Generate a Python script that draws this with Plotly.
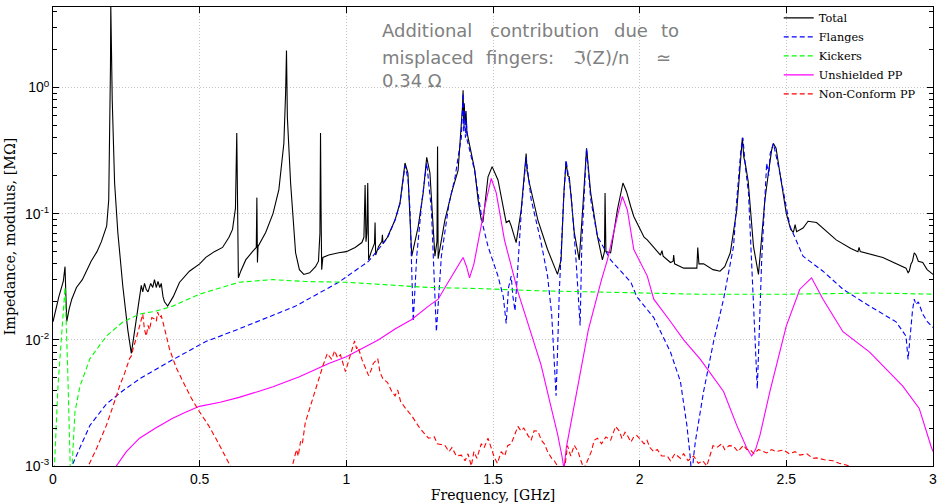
import plotly.graph_objects as go

# ---------------- data (frequency in GHz, impedance modulus in MOhm) ----------------
total_f = [0.000, 0.020, 0.035, 0.041, 0.044, 0.047, 0.055, 0.064, 0.080, 0.100, 0.130, 0.150,
           0.165, 0.183, 0.190, 0.193, 0.196, 0.197, 0.199, 0.202, 0.210, 0.221, 0.238, 0.255,
           0.267, 0.284, 0.295, 0.301, 0.306, 0.312, 0.318, 0.324, 0.333, 0.340, 0.346, 0.352,
           0.358, 0.364, 0.369, 0.375, 0.380, 0.391, 0.410, 0.431, 0.465, 0.500, 0.521, 0.550,
           0.578, 0.600, 0.612, 0.622, 0.6265, 0.628, 0.632, 0.640, 0.657, 0.680, 0.693, 0.695,
           0.697, 0.699, 0.725, 0.750, 0.770, 0.787, 0.793, 0.796, 0.799, 0.810, 0.827, 0.840,
           0.855, 0.875, 0.895, 0.905, 0.910, 0.912, 0.914, 0.916, 0.920, 0.940, 0.974, 1.000,
           1.030, 1.053, 1.060, 1.064, 1.067, 1.070, 1.073, 1.076, 1.085, 1.096, 1.098, 1.100,
           1.110, 1.121, 1.123, 1.125, 1.140, 1.166, 1.183, 1.200, 1.210, 1.223, 1.245, 1.262,
           1.274, 1.285, 1.302, 1.309, 1.311, 1.313, 1.336, 1.360, 1.381, 1.392, 1.396, 1.398,
           1.400, 1.402, 1.405, 1.408, 1.411, 1.415, 1.438, 1.449, 1.460, 1.466, 1.483, 1.497,
           1.517, 1.545, 1.555, 1.562, 1.579, 1.596, 1.606, 1.613, 1.616, 1.624, 1.653, 1.686,
           1.720, 1.732, 1.742, 1.749, 1.755, 1.760, 1.777, 1.794, 1.807, 1.819, 1.833, 1.856,
           1.873, 1.880, 1.882, 1.885, 1.901, 1.924, 1.943, 1.955, 1.970, 1.980, 2.015, 2.026,
           2.071, 2.076, 2.080, 2.105, 2.114, 2.116, 2.119, 2.150, 2.195, 2.198, 2.202, 2.218,
           2.250, 2.274, 2.290, 2.309, 2.331, 2.340, 2.345, 2.350, 2.355, 2.360, 2.370, 2.380,
           2.388, 2.405, 2.415, 2.427, 2.440, 2.444, 2.450, 2.456, 2.465, 2.478, 2.500, 2.515,
           2.524, 2.530, 2.535, 2.557, 2.574, 2.603, 2.670, 2.720, 2.744, 2.748, 2.752, 2.829,
           2.908, 2.915, 2.919, 2.925, 2.930, 2.936, 2.942, 2.950, 2.965, 2.980, 3.000]
total_z = [1.39e-2, 2.2e-2, 2.9e-2, 3.8e-2, 2.2e-2, 1.4e-2, 1.75e-2, 2.1e-2, 2.6e-2, 3.0e-2, 4.2e-2, 5.0e-2,
           6.0e-2, 8.0e-2, 1.29e-1, 3.2e-1, 1.5, 4.5, 1.6, 0.79, 1.75e-1, 7.1e-2, 2.66e-2, 1.2e-2,
           7.8e-3, 1.39e-2, 2.2e-2, 2.7e-2, 2.4e-2, 2.8e-2, 2.5e-2, 2.4e-2, 2.8e-2, 2.6e-2, 3.0e-2, 2.6e-2,
           2.9e-2, 2.6e-2, 2.8e-2, 2.2e-2, 2.0e-2, 1.85e-2, 2.2e-2, 2.85e-2, 3.5e-2, 4.0e-2, 4.5e-2, 5.0e-2,
           5.4e-2, 6.5e-2, 7.5e-2, 1.1e-1, 4.35e-1, 1.2e-1, 3.1e-2, 3.5e-2, 4.3e-2, 5.0e-2, 5.4e-2, 1.34e-1,
           4.1e-2, 5.5e-2, 7.1e-2, 1.0e-1, 1.55e-1, 3.6e-1, 0.9, 1.96, 0.58, 1.75e-1, 4.9e-2, 3.6e-2,
           3.3e-2, 3.4e-2, 3.8e-2, 4.2e-2, 7.0e-2, 4.35e-1, 1.0e-1, 3.6e-2, 4.5e-2, 4.7e-2, 4.9e-2, 5.0e-2,
           5.4e-2, 5.9e-2, 6.5e-2, 1.69e-1, 6.0e-2, 7.0e-2, 1.75e-1, 4.3e-2, 5.0e-2, 5.8e-2, 8.5e-2, 4.7e-2,
           5.5e-2, 6.0e-2, 6.8e-2, 5.8e-2, 6.5e-2, 8.9e-2, 1.22e-1, 2.52e-1, 2.1e-1, 4.6e-2, 7.9e-2, 1.46e-1,
           2.8e-1, 2.1e-1, 4.6e-2, 6.0e-2, 3.4e-1, 4.4e-2, 8.9e-2, 1.5e-1, 2.2e-1, 4.8e-1, 0.7, 0.95,
           0.55, 0.75, 0.5, 0.65, 0.45, 4.0e-1, 2.2e-1, 1.29e-1, 8.9e-2, 8.7e-2, 1.96e-1, 2.36e-1,
           1.85e-1, 8.5e-2, 8.8e-2, 8.0e-2, 5.9e-2, 1.07e-1, 2.0e-1, 3.0e-1, 2.2e-1, 1.75e-1, 8.9e-2, 5.2e-2,
           3.3e-2, 4.3e-2, 1.5e-1, 2.57e-1, 2.0e-1, 1.96e-1, 7.1e-2, 4.3e-2, 1.2e-1, 3.3e-1, 1.46e-1, 6.6e-2,
           4.3e-2, 5.0e-2, 1.46e-1, 5.0e-2, 4.9e-2, 1.07e-1, 1.75e-1, 1.5e-1, 1.13e-1, 9.5e-2, 6.5e-2, 6.2e-2,
           4.7e-2, 5.1e-2, 4.6e-2, 4.1e-2, 4.2e-2, 4.7e-2, 4.0e-2, 3.7e-2, 3.7e-2, 5.4e-2, 4.0e-2, 4.0e-2,
           3.6e-2, 3.5e-2, 3.8e-2, 4.9e-2, 1.07e-1, 2.0e-1, 3.0e-1, 4.0e-1, 2.8e-1, 2.5e-1, 1.8e-1, 1.0e-1,
           5.5e-2, 3.3e-2, 6.0e-2, 1.29e-1, 2.2e-1, 2.66e-1, 3.2e-1, 3.6e-1, 3.3e-1, 2.1e-1, 1.0e-1, 7.5e-2,
           7.1e-2, 8.2e-2, 7.2e-2, 7.7e-2, 8.7e-2, 8.5e-2, 6.2e-2, 5.3e-2, 5.0e-2, 5.4e-2, 5.0e-2, 4.5e-2,
           3.7e-2, 3.4e-2, 3.5e-2, 4.0e-2, 4.2e-2, 4.9e-2, 4.7e-2, 4.2e-2, 4.1e-2, 3.6e-2, 3.3e-2]

flanges_f = [0.062, 0.064, 0.126, 0.182, 0.239, 0.295, 0.408, 0.521, 0.634, 0.827, 0.974, 1.076,
             1.120, 1.140, 1.166, 1.183, 1.200, 1.210, 1.217, 1.228, 1.240, 1.257, 1.274, 1.290,
             1.307, 1.324, 1.350, 1.370, 1.385, 1.392, 1.395, 1.398, 1.400, 1.403, 1.406, 1.409,
             1.412, 1.415, 1.437, 1.449, 1.466, 1.483, 1.517, 1.535, 1.545, 1.553, 1.562, 1.568,
             1.575, 1.582, 1.596, 1.613, 1.630, 1.664, 1.686, 1.700, 1.710, 1.715, 1.720, 1.726,
             1.740, 1.749, 1.766, 1.783, 1.797, 1.803, 1.819, 1.833, 1.856, 1.901, 1.970, 1.990,
             2.048, 2.105, 2.139, 2.161, 2.172, 2.178, 2.184, 2.190, 2.218, 2.252, 2.286, 2.320,
             2.331, 2.345, 2.352, 2.360, 2.371, 2.382, 2.395, 2.401, 2.408, 2.416, 2.433, 2.440,
             2.445, 2.456, 2.478, 2.512, 2.557, 2.625, 2.693, 2.784, 2.874, 2.908, 2.915, 2.919,
             2.925, 2.930, 2.936, 2.942, 2.950, 2.965, 2.980, 3.000]
flanges_z = [9.0e-4, 1.0e-3, 2.1e-3, 3.1e-3, 3.97e-3, 4.9e-3, 6.95e-3, 9.7e-3, 1.22e-2, 1.85e-2, 2.86e-2, 4.2e-2,
             5.6e-2, 6.4e-2, 8.9e-2, 1.2e-1, 2.4e-1, 1.9e-1, 1.07e-1, 1.4e-2, 4.6e-2, 1.22e-1, 2.52e-1, 1.07e-1,
             1.16e-2, 4.6e-2, 1.2e-1, 1.9e-1, 3.2e-1, 4.0e-1, 0.6, 0.9, 0.45, 0.65, 0.4, 0.55,
             0.38, 3.6e-1, 2.2e-1, 1.46e-1, 8.0e-2, 5.5e-2, 3.2e-2, 2.2e-2, 1.35e-2, 2.6e-2, 3.2e-2, 2.2e-2,
             1.7e-2, 3.0e-2, 1.0e-1, 2.8e-1, 1.3e-1, 5.9e-2, 3.2e-2, 1.6e-2, 6.0e-3, 3.6e-3, 8.0e-3, 2.4e-2,
             1.2e-1, 2.66e-1, 1.46e-1, 4.3e-2, 1.3e-2, 6.0e-2, 3.3e-1, 1.3e-1, 6.6e-2, 4.3e-2, 2.86e-2, 2.2e-2,
             1.5e-2, 8.0e-3, 4.67e-3, 2.1e-3, 1.2e-3, 8.0e-4, 1.2e-3, 1.57e-3, 3.9e-3, 9.7e-3, 2.1e-2, 5.5e-2,
             1.29e-1, 3.2e-1, 4.0e-1, 2.4e-1, 1.46e-1, 4.3e-2, 1.0e-2, 4.1e-3, 1.2e-2, 4.3e-2, 2.52e-1, 2.0e-1,
             3.0e-1, 3.6e-1, 2.1e-1, 8.0e-2, 4.6e-2, 3.5e-2, 2.52e-2, 1.85e-2, 1.39e-2, 1.07e-2, 7.0e-3, 9.0e-3,
             1.2e-2, 1.7e-2, 2.1e-2, 1.9e-2, 2.0e-2, 1.6e-2, 1.4e-2, 1.25e-2]

kickers_f = [0.000, 0.005, 0.017, 0.030, 0.041, 0.050, 0.056, 0.058, 0.062, 0.066, 0.075, 0.092,
             0.126, 0.182, 0.239, 0.295, 0.352, 0.408, 0.499, 0.634, 0.748, 0.861, 1.000, 1.280,
             1.450, 1.650, 1.850, 2.000, 2.200, 2.500, 2.800, 3.000]
kickers_z = [8.0e-4, 1.0e-3, 4.3e-3, 1.2e-2, 2.6e-2, 6.0e-3, 2.0e-3, 1.5e-3, 5.0e-4, 1.1e-3, 2.7e-3, 4.3e-3,
             7.1e-3, 1.07e-2, 1.39e-2, 1.6e-2, 1.69e-2, 1.85e-2, 2.3e-2, 2.86e-2, 3.0e-2, 2.9e-2, 2.86e-2, 2.6e-2,
             2.55e-2, 2.45e-2, 2.4e-2, 2.35e-2, 2.3e-2, 2.3e-2, 2.35e-2, 2.3e-2]

unshielded_f = [0.210, 0.216, 0.250, 0.295, 0.350, 0.408, 0.450, 0.499, 0.570, 0.634, 0.700, 0.750,
                0.840, 0.940, 1.000, 1.053, 1.110, 1.166, 1.223, 1.280, 1.313, 1.347, 1.370, 1.398,
                1.410, 1.420, 1.435, 1.449, 1.472, 1.494, 1.511, 1.539, 1.585, 1.619, 1.664, 1.700,
                1.720, 1.735, 1.742, 1.750, 1.770, 1.810, 1.825, 1.870, 1.890, 1.924, 1.941, 1.958,
                1.980, 2.026, 2.048, 2.100, 2.150, 2.207, 2.286, 2.331, 2.365, 2.382, 2.395, 2.410,
                2.444, 2.500, 2.546, 2.586, 2.625, 2.693, 2.784, 2.897, 2.953, 2.993, 3.000]
unshielded_z = [9.0e-4, 1.0e-3, 1.3e-3, 1.66e-3, 2.0e-3, 2.39e-3, 2.65e-3, 2.97e-3, 3.2e-3, 3.5e-3, 3.9e-3, 4.25e-3,
                5.1e-3, 6.5e-3, 7.35e-3, 8.5e-3, 1.0e-2, 1.22e-2, 1.45e-2, 1.85e-2, 2.1e-2, 2.86e-2, 3.5e-2, 4.5e-2,
                3.8e-2, 3.1e-2, 4.0e-2, 6.0e-2, 1.13e-1, 1.9e-1, 1.46e-1, 6.2e-2, 2.4e-2, 1.35e-2, 6.3e-3, 2.8e-3,
                1.8e-3, 1.2e-3, 9.5e-4, 1.4e-3, 2.5e-3, 8.0e-3, 1.2e-2, 3.0e-2, 4.3e-2, 9.5e-2, 1.37e-1, 1.07e-1,
                5.2e-2, 3.2e-2, 2.1e-2, 1.45e-2, 1.0e-2, 7.0e-3, 3.9e-3, 2.1e-3, 1.39e-3, 1.2e-3, 1.35e-3, 1.75e-3,
                3.9e-3, 1.29e-2, 2.52e-2, 3.1e-2, 2.1e-2, 1.16e-2, 8.0e-3, 4.3e-3, 2.86e-3, 1.44e-3, 1.3e-3]

nonconform_f = [0.115, 0.120, 0.150, 0.182, 0.205, 0.227, 0.245, 0.261, 0.268, 0.273, 0.285, 0.295,
                0.306, 0.312, 0.318, 0.324, 0.329, 0.337, 0.346, 0.352, 0.357, 0.363, 0.369, 0.374,
                0.385, 0.397, 0.420, 0.442, 0.470, 0.499, 0.530, 0.555, 0.580, 0.606, 0.615, None,
                0.812, 0.816, 0.830, 0.836, 0.844, 0.850, 0.860, 0.875, 0.890, 0.905, 0.920, 0.935,
                0.950, 0.960, 0.970, 0.980, 0.997, 1.005, 1.012, 1.020, 1.028, 1.035, 1.040, 1.053,
                1.065, 1.076, 1.085, 1.092, 1.107, 1.115, 1.125, 1.140, 1.155, 1.166, 1.175, 1.185,
                1.200, 1.223, 1.250, 1.280, 1.300, 1.310, 1.336, 1.350, 1.360, 1.375, 1.392, 1.405,
                1.415, 1.426, 1.435, 1.445, 1.460, 1.470, 1.483, 1.495, 1.505, 1.515, 1.528, 1.540,
                1.550, 1.562, 1.575, 1.585, 1.595, 1.605, 1.619, 1.630, 1.640, 1.653, 1.665, 1.675,
                1.686, 1.700, 1.709, 1.720, 1.735, 1.743, 1.754, 1.765, 1.777, 1.790, 1.800, 1.810,
                1.822, 1.835, 1.845, 1.856, 1.870, 1.885, 1.901, 1.910, 1.918, 1.930, 1.940, 1.950,
                1.958, 1.970, 1.980, 1.990, 2.003, 2.015, 2.025, 2.035, 2.048, 2.060, 2.075, 2.094,
                2.105, 2.120, 2.139, 2.150, 2.165, 2.184, 2.200, 2.215, 2.229, 2.240, 2.250, 2.263,
                2.280, 2.290, 2.305, 2.320, 2.335, 2.354, 2.365, 2.376, 2.390, 2.405, 2.420, 2.433,
                2.450, 2.465, 2.490, 2.510, 2.530, 2.546, 2.570, 2.590, 2.603, 2.630, 2.659, 2.680,
                2.704, 2.720]
nonconform_z = [9.0e-4, 1.0e-3, 1.4e-3, 2.1e-3, 3.0e-3, 4.3e-3, 5.5e-3, 7.1e-3, 7.5e-3, 8.5e-3, 1.05e-2, 1.29e-2,
                1.6e-2, 1.2e-2, 1.07e-2, 1.3e-2, 1.2e-2, 1.5e-2, 1.46e-2, 1.4e-2, 1.66e-2, 1.5e-2, 1.55e-2, 1.41e-2,
                1.1e-2, 8.5e-3, 6.0e-3, 4.67e-3, 3.5e-3, 2.7e-3, 2.1e-3, 1.66e-3, 1.3e-3, 1.0e-3, 9.0e-4, None,
                9.0e-4, 1.0e-3, 1.35e-3, 1.2e-3, 1.57e-3, 1.5e-3, 2.2e-3, 2.9e-3, 3.8e-3, 4.8e-3, 6.2e-3, 7.8e-3,
                7.0e-3, 8.2e-3, 7.2e-3, 7.6e-3, 5.6e-3, 6.5e-3, 7.2e-3, 8.5e-3, 9.8e-3, 8.5e-3, 8.8e-3, 7.0e-3,
                6.0e-3, 5.2e-3, 5.8e-3, 6.5e-3, 7.1e-3, 5.5e-3, 4.9e-3, 4.6e-3, 3.9e-3, 3.6e-3, 4.0e-3, 3.25e-3,
                2.9e-3, 2.5e-3, 2.0e-3, 1.66e-3, 1.7e-3, 1.5e-3, 1.46e-3, 1.3e-3, 1.4e-3, 1.2e-3, 1.22e-3, 1.1e-3,
                1.25e-3, 1.0e-3, 1.3e-3, 1.15e-3, 1.5e-3, 1.4e-3, 1.66e-3, 1.35e-3, 1.16e-3, 1.05e-3, 1.3e-3, 1.2e-3,
                1.45e-3, 1.5e-3, 1.8e-3, 2.06e-3, 1.9e-3, 2.0e-3, 1.75e-3, 1.6e-3, 1.9e-3, 1.89e-3, 1.6e-3, 1.5e-3,
                1.3e-3, 1.15e-3, 1.1e-3, 1.0e-3, 9.5e-4, 9.0e-4, 1.45e-3, 1.2e-3, 1.46e-3, 1.3e-3, 1.1e-3, 9.5e-4,
                1.1e-3, 1.3e-3, 1.6e-3, 1.66e-3, 1.5e-3, 1.7e-3, 1.6e-3, 1.8e-3, 2.06e-3, 1.9e-3, 1.65e-3, 1.85e-3,
                1.75e-3, 1.55e-3, 1.7e-3, 1.75e-3, 1.6e-3, 1.5e-3, 1.6e-3, 1.4e-3, 1.3e-3, 1.35e-3, 1.2e-3, 1.2e-3,
                1.1e-3, 1.25e-3, 1.15e-3, 1.25e-3, 1.1e-3, 1.2e-3, 1.05e-3, 1.1e-3, 1.0e-3, 1.2e-3, 1.45e-3, 1.4e-3,
                1.5e-3, 1.35e-3, 1.45e-3, 1.44e-3, 1.3e-3, 1.46e-3, 1.35e-3, 1.35e-3, 1.25e-3, 1.35e-3, 1.3e-3, 1.27e-3,
                1.35e-3, 1.3e-3, 1.34e-3, 1.25e-3, 1.3e-3, 1.22e-3, 1.25e-3, 1.15e-3, 1.16e-3, 1.12e-3, 1.1e-3, 1.05e-3,
                1.02e-3, 9.8e-4]

series_names = ["Total", "Flanges", "Kickers", "Unshielded PP", "Non-Conform PP"]
series_colors = ["#000000", "#0000ff", "#00ff00", "#ff00ff", "#ff0000"]
series_dash = ["solid", "5px,3px", "5px,3px", "solid", "5px,3px"]

x_tickvals = [0, 0.5, 1, 1.5, 2, 2.5, 3]
x_ticktext = ["0", "0.5", "1", "1.5", "2", "2.5", "3"]
y_tickvals = [1e-3, 1e-2, 1e-1, 1]
y_ticktext = ["10<sup>-3</sup>", "10<sup>-2</sup>", "10<sup>-1</sup>", "10<sup>0</sup>"]

note_words = [  # (word, paper x of its left edge, line index)
    ("Additional", 0.3718, 0), ("contribution", 0.4943, 0), ("due", 0.6357, 0), ("to", 0.6889, 0),
    ("misplaced", 0.3718, 1), ("fingers:", 0.4898, 1), ("\u2111(Z)/n", 0.5882, 1), ("\u2243", 0.6833, 1),
    ("0.34 \u03a9", 0.3718, 2),
]
note_line_y = [0.948, 0.8896, 0.8398]

# ---------------- figure ----------------
fig = go.Figure()
data = [(total_f, total_z), (flanges_f, flanges_z), (kickers_f, kickers_z),
        (unshielded_f, unshielded_z), (nonconform_f, nonconform_z)]
for (f, z), name, col, dash in zip(data, series_names, series_colors, series_dash):
    fig.add_trace(go.Scatter(x=f, y=z, mode="lines", name=name, connectgaps=False,
                             line=dict(color=col, width=1.1, dash=dash)))

axis_common = dict(showline=True, linecolor="black", linewidth=1, mirror="ticks",
                   ticks="inside", tickcolor="black", ticklen=6, tickwidth=1,
                   showgrid=True, gridcolor="#c4c4c4", griddash="1px,2px", gridwidth=1,
                   zeroline=False, ticklabeloverflow="allow",
                   tickfont=dict(family="Liberation Sans, Arial", size=14, color="black"))

fig.update_xaxes(range=[0, 3], tickmode="array", tickvals=x_tickvals, ticktext=x_ticktext,
                 title=dict(text="Frequency, [GHz]", standoff=4,
                            font=dict(family="DejaVu Serif", size=14, color="black")),
                 **axis_common)
fig.update_yaxes(type="log", range=[-3, 0.638], tickmode="array", tickvals=y_tickvals,
                 ticktext=y_ticktext,
                 minor=dict(dtick="D1", ticks="inside", ticklen=4, tickwidth=1,
                            tickcolor="black", showgrid=False),
                 title=dict(text="Impedance, modulus, [M\u03a9]", standoff=5,
                            font=dict(family="DejaVu Serif", size=14.3, color="black")),
                 **axis_common)

for txt, xp, ln in note_words:
    fig.add_annotation(text=txt, x=xp, y=note_line_y[ln], xref="paper", yref="paper",
                       xanchor="left", yanchor="middle", showarrow=False,
                       font=dict(family="DejaVu Sans", size=18, color="#808080"))

fig.update_layout(
    width=940, height=504,
    margin=dict(l=53, r=3, t=6, b=36),
    paper_bgcolor="white", plot_bgcolor="white",
    legend=dict(x=0.8247, y=1.008, xanchor="left", yanchor="top",
                bgcolor="rgba(0,0,0,0)", borderwidth=0,
                font=dict(family="DejaVu Serif", size=11.3, color="black"),
                tracegroupgap=0, itemwidth=30),
    showlegend=True,
)

fig.write_html("out.html")
